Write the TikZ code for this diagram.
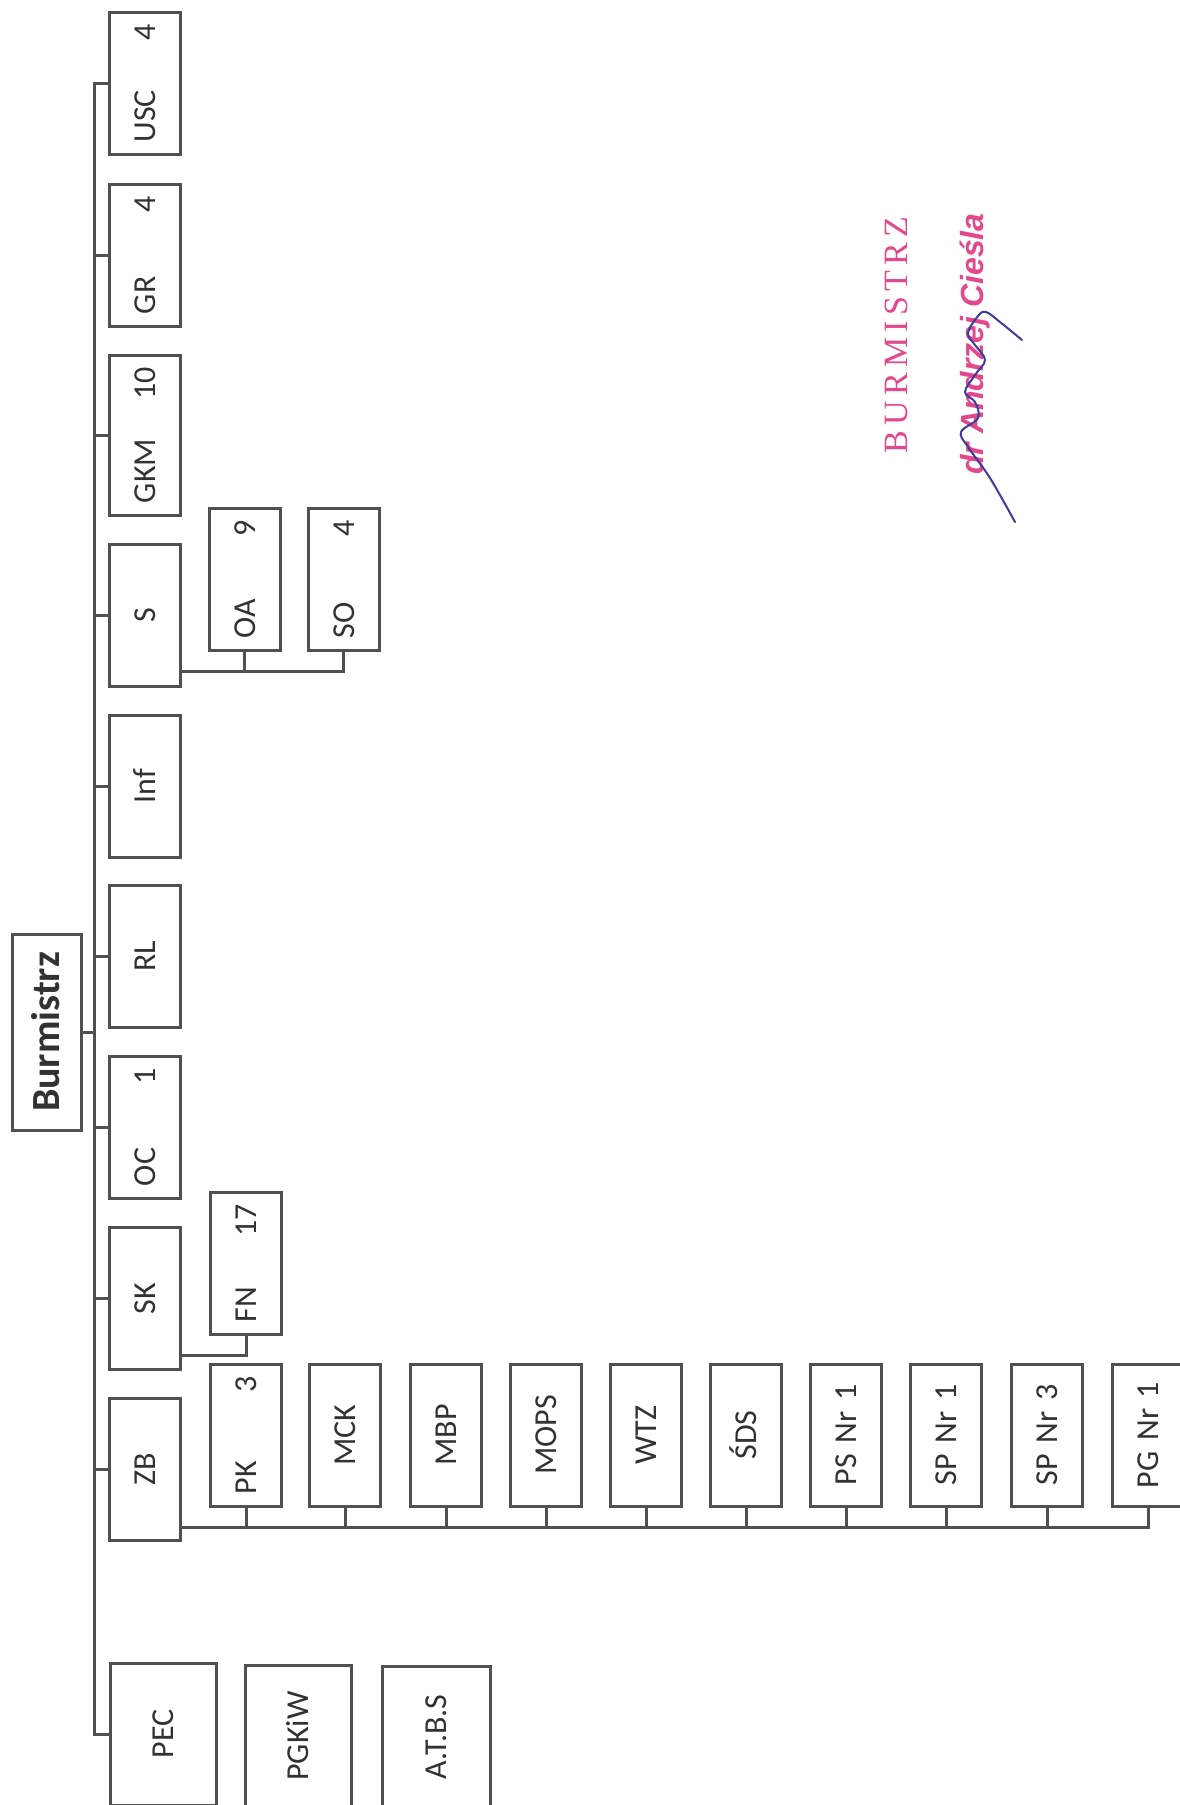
\documentclass[tikz,border=0pt]{standalone}
\usepackage{fontspec}
\setmainfont{Carlito}
\newfontfamily\stampserif{Liberation Serif}
\newfontfamily\stampsans{Liberation Sans}
\usetikzlibrary{calc}
\definecolor{linecol}{RGB}{80,80,80}
\definecolor{txtcol}{RGB}{50,50,50}
\definecolor{pinkcol}{RGB}{228,72,140}
\definecolor{sigcol}{RGB}{60,60,155}
\newcommand{\lblfont}{\fontsize{32}{36}\selectfont}
\newcommand{\burmfont}{\fontsize{40}{44}\selectfont\bfseries}
\tikzset{
  ubox/.style={draw=linecol, line width=3pt, rotate=90, inner xsep=12pt, inner ysep=0pt,
    text width=118pt, minimum height=71pt, text height=21pt, text depth=0pt,
    font=\lblfont, text=txtcol, align=center},
  conn/.style={draw=linecol, line width=3pt},
  stampfont/.style={rotate=90, anchor=base, inner sep=0pt, text=pinkcol}
}
\begin{document}
\begin{tikzpicture}[x=1pt,y=-1pt]
\fill[white] (0,0) rectangle (1180,1805);
\useasboundingbox (0,0) rectangle (1180,1805);
\coordinate (trunk) at (94,0);
% first column
\node[ubox, align=left] (usc) at (144.5,83.5) {USC\hfill 4};
\node[ubox, align=left] (gr) at (144.5,255) {GR\hfill 4};
\node[ubox, align=left, text width=136pt] (gkm) at (144.5,435) {GKM\hfill 10};
\node[ubox] (s) at (144.5,615.5) {S};
\node[ubox] (inf) at (144.5,786) {Inf};
\node[ubox] (rl) at (144.5,956) {RL};
\node[ubox, align=left] (oc) at (144.5,1127) {OC\hfill 1};
\node[ubox] (sk) at (144.5,1298.5) {SK};
\node[ubox] (zb) at (144.5,1469) {ZB};
% sub units
\node[ubox, align=left] (oa) at (244.5,579.5) {OA\hfill 9};
\node[ubox, align=left] (so) at (343.5,579.5) {SO\hfill 4};
\node[ubox, align=left] (fn) at (246,1263.5) {FN\hfill 17};
\node[ubox, align=left] (pk) at (246,1435) {PK\hfill 3};
\node[ubox] (mck) at (345,1435) {MCK};
\node[ubox] (mbp) at (446,1435) {MBP};
\node[ubox] (mops) at (546,1435) {MOPS};
\node[ubox] (wtz) at (646,1435) {WTZ};
\node[ubox] (sds) at (746,1435) {ŚDS};
\node[ubox] (ps1) at (846,1435) {PS Nr 1};
\node[ubox] (sp1) at (946,1435) {SP Nr 1};
\node[ubox] (sp3) at (1047,1435) {SP Nr 3};
\node[ubox] (pg1) at (1148,1435) {PG Nr 1};
% companies
\node[ubox, minimum height=106pt] (pec) at (163,1734) {PEC};
\node[ubox, minimum height=106pt] (pgkiw) at (298,1736) {PGKiW};
\node[ubox, minimum height=108pt] (atbs) at (436,1737) {A.T.B.S};
% head
\node[ubox, text width=172pt, minimum height=69pt, font=\burmfont, text height=26pt] (burm) at (46.5,1032) {Burmistrz};
% connectors
\draw[conn] (usc.north) -- (usc.north -| trunk) -- (pec.north -| trunk) -- (pec.north);
\foreach \n in {gr,gkm,s,inf,rl,oc,sk,zb} \draw[conn] (\n.north) -- (\n.north -| trunk);
\draw[conn] (burm.south) -- (burm.south -| trunk);
\coordinate (sbus) at ($(s.south west)+(0,-17)$);
\draw[conn] (sbus) -- (sbus -| so.west) -- (so.west);
\draw[conn] (oa.west) -- (oa.west |- sbus);
\coordinate (skbus) at ($(sk.south west)+(0,-16)$);
\draw[conn] (skbus) -| (fn.west);
\coordinate (zbus) at ($(zb.south west)+(0,-14)$);
\draw[conn] (zbus) -- (zbus -| pg1.west) -- (pg1.west);
\foreach \n in {pk,mck,mbp,mops,wtz,sds,ps1,sp1,sp3} \draw[conn] (\n.west) -- (\n.west |- zbus);
% stamp
\node[stampfont, font=\stampserif\fontsize{34}{36}\selectfont] (stamp1) at (907,335)
  {\makebox[236pt][s]{B\hfill U\hfill R\hfill M\hfill I\hfill S\hfill T\hfill R\hfill Z}};
\node[stampfont, font=\stampsans\fontsize{32}{36}\selectfont\bfseries\itshape] (stamp2) at (983,344)
  {dr Andrzej Cieśla};
% signature
\draw[sigcol, line width=2pt, line cap=round, line join=round] plot[smooth, tension=0.6] coordinates
  {(1015,522) (990,478) (968,447) (961,432) (978,418) (975,402) (965,392) (975,375) (985,360) (975,345) (968,333) (978,316) (986,312) (1000,322) (1022,340)};
\end{tikzpicture}
\end{document}
